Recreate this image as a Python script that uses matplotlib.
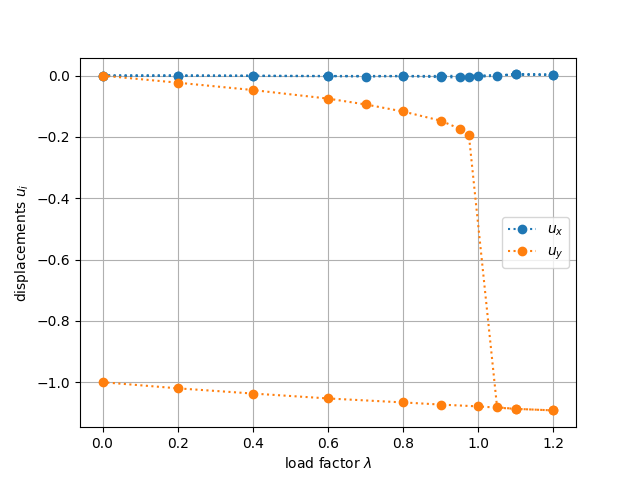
import matplotlib
matplotlib.use("Agg")
import matplotlib.pyplot as plt

# load path: loading up to snap-through, then unloading back to zero
lam = [0.0, 0.2, 0.4, 0.6, 0.7, 0.8, 0.9, 0.95, 0.975, 1.05, 1.1, 1.2,
       1.2, 1.1, 1.0, 0.9, 0.8, 0.6, 0.4, 0.2, 0.0]
ux = [0.0, 0.0, -0.001, -0.002, -0.003, -0.002, -0.005, -0.006, -0.006, 0.0, 0.004, 0.003,
      0.003, 0.004, 0.0, -0.001, -0.001, -0.001, 0.0, 0.0, 0.0]
uy = [0.0, -0.023, -0.047, -0.075, -0.094, -0.117, -0.147, -0.173, -0.195, -1.082, -1.087, -1.092,
      -1.092, -1.087, -1.079, -1.073, -1.066, -1.053, -1.037, -1.020, -1.0]

fig, ax = plt.subplots(figsize=(6.4, 4.8), dpi=100)
ax.plot(lam, ux, 'o:', label='$u_x$')
ax.plot(lam, uy, 'o:', label='$u_y$')
ax.grid()
ax.set_xlabel(r'load factor $\lambda$')
ax.set_ylabel('displacements $u_i$')
ax.legend(loc='center right')
fig.savefig('out.png')
